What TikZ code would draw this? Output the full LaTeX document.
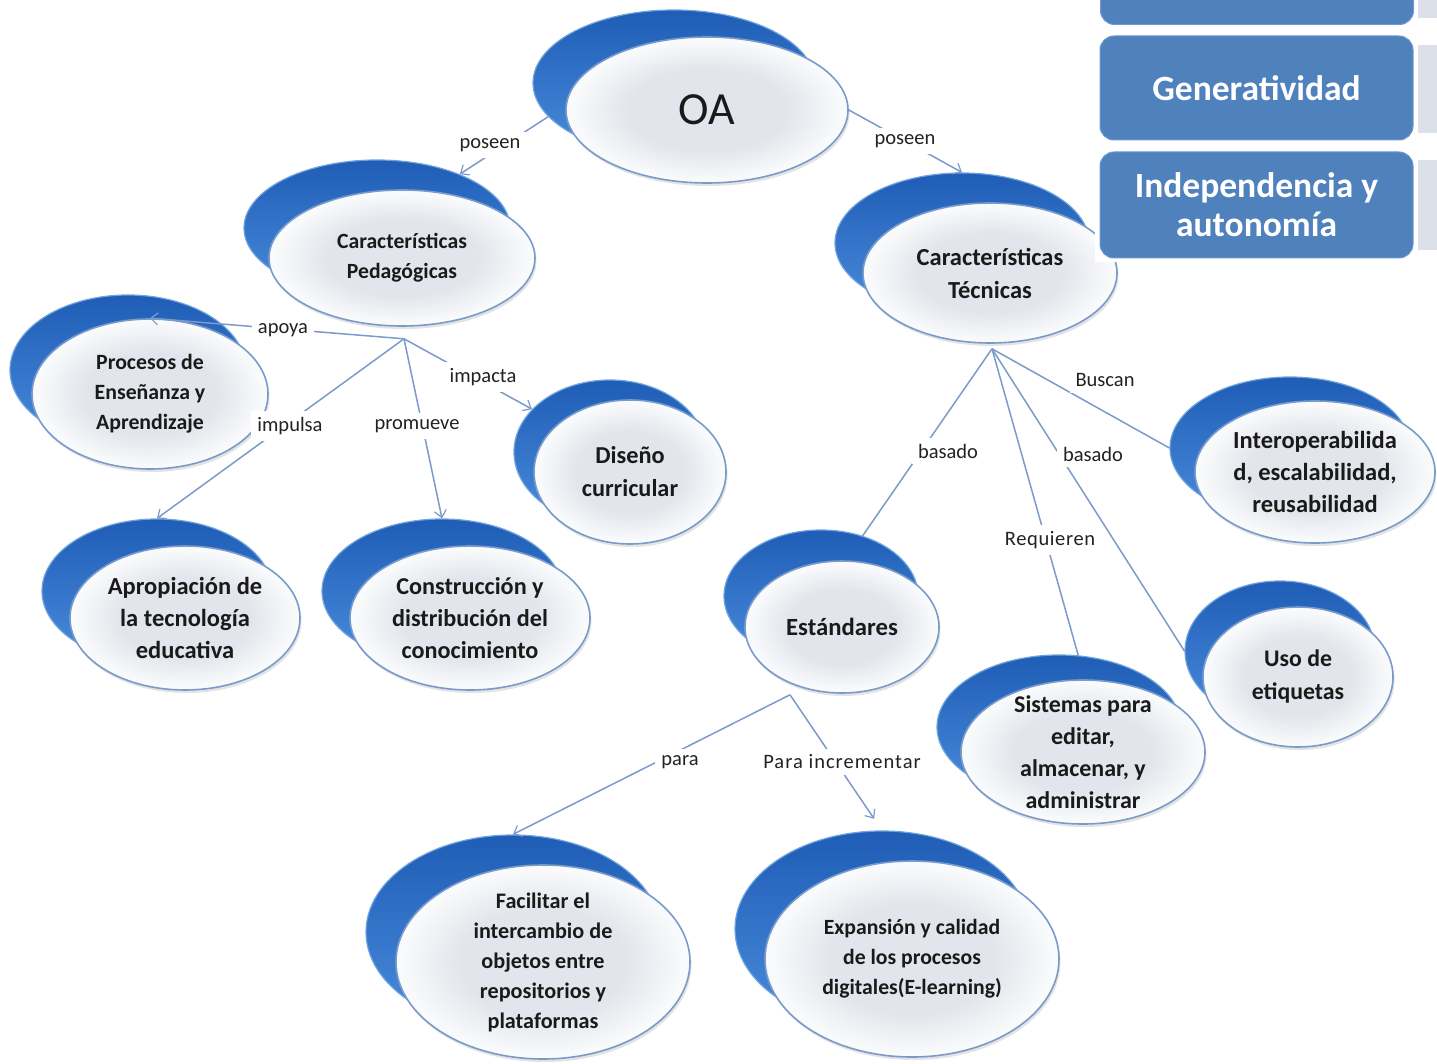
\documentclass[tikz,border=0pt]{standalone}
\usepackage{fontspec}
\setmainfont{Carlito}
\usetikzlibrary{shapes.geometric,arrows.meta,shadows,calc}

\definecolor{blueTop}{HTML}{1F5DB6}
\definecolor{blueBot}{HTML}{4A8CDC}
\definecolor{blueRim}{HTML}{6FA3E0}
\definecolor{facein}{HTML}{E2E5EB}
\definecolor{faceout}{HTML}{F9FAFC}
\definecolor{faceline}{HTML}{7A9BCA}
\definecolor{linkcol}{HTML}{7C9ACB}
\definecolor{ink}{HTML}{1A1A1A}
\definecolor{labelink}{HTML}{222222}
\definecolor{boxblue}{HTML}{4F81BD}
\definecolor{boxrim}{HTML}{6F98CE}
\definecolor{tabgray}{HTML}{DCE1E9}

\pgfdeclareradialshading{facegrad}{\pgfpointorigin}{color(0bp)=(facein); color(14bp)=(facein); color(24bp)=(faceout); color(50bp)=(faceout)}

\newcommand\fsz[2]{\fontsize{#1}{#2}\selectfont}
% name, centre, rx, ry, shift of the blue back disc, font, text
\newcommand\bubble[7]{%
  \node[backdisc, minimum width=2*#3, minimum height=2*#4] (#1-b) at ($(#2)+(#5)$) {};
  \node[facedisc, minimum width=2*#3, minimum height=2*#4] (#1) at (#2) {};
  \node[bubbletext, font=\bfseries#6] (#1-t) at (#1.center) {#7};
}

\tikzset{
  backdisc/.style={ellipse, inner sep=0pt, top color=blueTop, bottom color=blueBot, draw=blueRim, line width=1.2pt},
  facedisc/.style={ellipse, inner sep=0pt, shade, shading=facegrad, draw=faceline, line width=1.6pt,
    drop shadow={shadow xshift=1.5pt, shadow yshift=-3pt, opacity=0.22}},
  bubbletext/.style={align=center, text=ink, inner sep=0pt},
  link/.style={draw=linkcol, line width=1.5pt},
  tip/.style={-{Straight Barb[length=7pt,width=12pt,line width=1.2pt]}},
  lbl/.style={fill=white, inner sep=6pt, text=labelink, font=\fsz{20.5}{23}},
  topbox/.style={rounded corners=14pt, fill=boxblue, draw=boxrim, line width=1pt, text=white, align=center, font=\bfseries\fsz{35.5}{39}},
  sidetab/.style={fill=tabgray, draw=none, inner sep=0pt}
}

\begin{document}
\begin{tikzpicture}[x=1pt,y=-1pt]
\useasboundingbox (0,0) rectangle (1437,1064);
\fill[white] (0,0) rectangle (1437,1064);

% bubbles
\bubble{OA}{707,110}{141}{73}{-33,-27}{\mdseries\fsz{46}{50}}{OA}
\bubble{Ped}{402,258}{133}{68}{-25,-30}{\fsz{21.7}{30}}{Características\\Pedagógicas}
\bubble{Tec}{990,273}{127}{70}{-28,-30}{\fsz{24.5}{33}}{Características\\Técnicas}
\bubble{Pro}{150,394}{118}{75}{-22,-24}{\fsz{21.8}{30}}{Procesos de\\Enseñanza y\\Aprendizaje}
\bubble{Dis}{630,472}{96}{72}{-20,-20}{\fsz{24.3}{33}}{Diseño\\curricular}
\bubble{Apr}{185,618}{115}{72}{-28,-27}{\fsz{24.5}{32}}{Apropiación de\\la tecnología\\educativa}
\bubble{Con}{470,618}{120}{72}{-28,-27}{\fsz{24.2}{32}}{Construcción y\\distribución del\\conocimiento}
\bubble{Est}{842,627}{97}{66}{-21,-31}{\fsz{24.7}{30}}{Estándares}
\bubble{Int}{1315,472}{120}{71}{-25,-24}{\fsz{24.5}{32}}{Interoperabilida\\d, escalabilidad,\\reusabilidad}
\bubble{Uso}{1298,677}{95}{70}{-18,-26}{\fsz{23.8}{33}}{Uso de\\etiquetas}
\bubble{Sis}{1083,752}{122}{72}{-24,-25}{\fsz{24}{32}}{Sistemas para\\editar,\\almacenar, y\\administrar}
\bubble{Fac}{543,962}{147}{97}{-30,-30}{\fsz{22.2}{30}}{Facilitar el\\intercambio de\\objetos entre\\repositorios y\\plataformas}
\bubble{Exp}{912,959}{147}{98}{-30,-30}{\fsz{21.7}{30}}{Expansión y calidad\\de los procesos\\digitales(E-learning)}

% points where the bundles of links leave a bubble
\coordinate (pedfoot) at ($(Ped.south)+(2,12)$);
\coordinate (tecfoot) at ($(Tec.south)+(2,5)$);
\coordinate (estfoot) at ($(Est.south)+(-52,1)$);

% links
\draw[link,tip] (OA-b.195) -- (Ped-b);
\draw[link,tip] (OA.east) -- (Tec-b.north);
\draw[link,tip] (pedfoot) -- (Pro.north);
\draw[link,tip] (pedfoot) -- (Apr-b.north);
\draw[link,tip] (pedfoot) -- (Con-b.north);
\draw[link,tip] (pedfoot) -- (Dis-b);
\draw[link] (tecfoot) -- (Est-b);
\draw[link] (tecfoot) -- (Int-b.west);
\draw[link] (tecfoot) -- (Uso-b.west);
\draw[link] (tecfoot) -- (Sis-b.75);
\draw[link,tip] (estfoot) -- (Fac-b.north);
\draw[link,tip,shorten >=14pt] (estfoot) -- (Exp-b.north);

% link labels
\node[lbl] (l-pos1) at (490,145) {poseen};
\node[lbl] (l-pos2) at (905,141) {poseen};
\node[lbl] (l-apoya) at (283,330) {apoya};
\node[lbl] (l-impulsa) at (290,426) {impulsa};
\node[lbl] (l-promueve) at (417,426) {promueve};
\node[lbl] (l-impacta) at (483,377) {impacta};
\node[lbl] (l-bas1) at (948,451) {basado};
\node[lbl] (l-busc) at (1105,380) {Buscan};
\node[lbl] (l-bas2) at (1093,454) {basado};
\node[lbl] (l-req) at (1050,540) {\addfontfeatures{LetterSpace=3}Requieren};
\node[lbl] (l-para) at (680,762) {para};
\node[lbl] (l-parainc) at (842,762) {\addfontfeatures{LetterSpace=5}Para incrementar};

% list of blue boxes at the top right
\fill[white] (1095,-5) rectangle (1445,262);
\node[topbox, minimum width=313, minimum height=110, anchor=south west] (boxA) at (1100,25) {};
\node[topbox, minimum width=313, minimum height=104] (boxB) at (1256.5,88) {Generatividad};
\node[topbox, minimum width=313, minimum height=106] (boxC) at (1256.5,205) {Independencia y\\autonomía};
\node[sidetab, minimum width=30, minimum height=80, anchor=north west] (tabA) at (1418,-62) {};
\node[sidetab, minimum width=30, minimum height=88, anchor=north west] (tabB) at (1418,45) {};
\node[sidetab, minimum width=30, minimum height=90, anchor=north west] (tabC) at (1418,160) {};
\end{tikzpicture}
\end{document}
